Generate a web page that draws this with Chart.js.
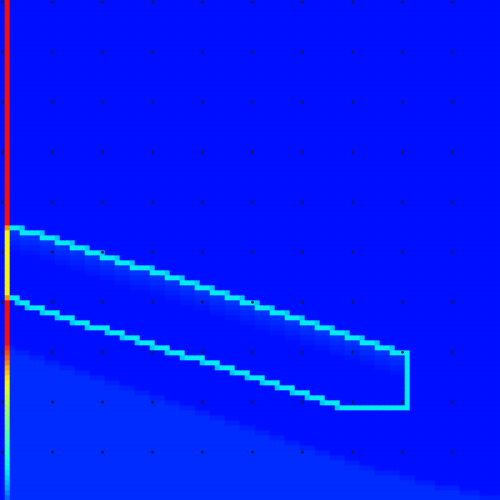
<!DOCTYPE html>
<html>
<head>
<meta charset="utf-8">
<script src="https://cdn.jsdelivr.net/npm/chart.js@4.4.1/dist/chart.umd.min.js"></script>
<style>
html,body{margin:0;padding:0;background:#000fff;overflow:hidden}
canvas{display:block}
</style>
</head>
<body>
<canvas id="c" width="500" height="500"></canvas>
<script>
// ---------- data ----------
const NCOLS = 100;
const NROWS = 100;
const columnLabels = Array.from({length: NCOLS}, (_, i) => String(i));

const backgroundValue = 0.14;
const edgeValue = 0.355;
const edgeJoinValue = 0.32;
const lowerRegionValue = 0.168;
const lowerRegionEdgeValue = 0.155;
const bandValues = [0.176, 0.165, 0.155, 0.147];

// column 1 (left strip), one value per row
const stripColumn = 1;
const stripValues = [
  0.895,0.895,0.895,0.895,0.895,0.895,0.895,0.895,0.895,0.895,
  0.895,0.895,0.895,0.895,0.895,0.895,0.895,0.895,0.895,0.895,
  0.895,0.895,0.895,0.895,0.895,0.895,0.895,0.895,0.895,0.895,
  0.895,0.895,0.895,0.895,0.895,0.895,0.895,0.895,0.895,0.895,
  0.895,0.895,0.895,0.895,0.895,
  0.76,
  0.65,0.65,0.65,0.65,0.65,0.65,0.65,0.65,0.65,0.65,0.65,0.65,0.65,
  0.76,
  0.895,0.895,0.895,0.895,0.895,0.895,0.895,0.895,0.895,
  0.86,0.83,0.80,0.77,0.73,0.70,0.67,0.65,0.63,0.61,
  0.59,0.57,0.55,0.53,0.51,0.50,0.48,0.46,0.44,0.43,
  0.41,0.40,0.38,0.37,0.36,0.35,0.33,0.31,0.29,0.26,0.23
];

// outline of the band: rows per column, starting at column 2
const edgeFirstCol = 2;
const topEdgeRows = [
  45,45,
  46,46,46,46,
  47,47,47, 48,48,48, 49,49,49, 50,50,50, 51,51,51, 52,52,52,
  53,53,53,53,
  54,54,54, 55,55,55, 56,56,56, 57,57,57, 58,58,58, 59,59,59,
  60,60,60, 61,61,61, 62,62,62, 63,63,63, 64,64,64, 65,65,65,
  66,66,66, 67,67,67, 68,68,68, 69,69,69,
  70,70,70,70
];
const bottomEdgeRows = [
  59,59, 60,60,
  61,61,61, 62,62,62, 63,63,63, 64,64,64,
  65,65,65,65,
  66,66,66, 67,67,67, 68,68,68, 69,69,69, 70,70,70,
  71,71,71,71,
  72,72,72, 73,73,73, 74,74,74, 75,75,75, 76,76,76, 77,77,77,
  78,78,78, 79,79,79, 80,80,80,
  81,81,81,81,81,81,81,81,81,81,81,81,81,81
];
const rightEdgeCol = 81;
const rightEdgeRows = [70, 81];

// lighter lower region: first row per column, starting at column 2
const lowerFirstCol = 2;
const lowerStartRows = [
  69,
  70,70,70, 71,71,71, 72,72,72, 73,73,73, 74,74,74, 75,75,75,
  76,76,76, 77,77,77, 78,78,78, 79,79,79, 80,80,80, 81,81,81,
  82,82,82, 83,83,83, 84,84,84, 85,85,85, 86,86,86, 87,87,87,
  88,88,88, 89,89,89, 90,90,90, 91,91,91, 92,92,92, 93,93,93,
  94,94,94,94,94,
  95,95,95,
  96,96,96,96,
  97,97,97,97,97,
  98,98,98,98,
  99,99,99,99
];

// small dark marks
const dotCols = [0,10,20,30,40,50,60,70,80,90];
const dotRows = [0.45,10.45,20.45,30.45,40.45,50.45,60.45,70.45,80.45,90.45];

// ---------- build the cell table ----------
const M = [];
for (let r = 0; r < NROWS; r++) M.push(new Array(NCOLS).fill(backgroundValue));
for (let r = 0; r < NROWS; r++) M[r][stripColumn] = stripValues[r];

lowerStartRows.forEach((s, i) => {
  const c = lowerFirstCol + i;
  for (let r = s; r < NROWS; r++) M[r][c] = (r === s) ? lowerRegionEdgeValue : lowerRegionValue;
});
topEdgeRows.forEach((t, i) => {
  const c = edgeFirstCol + i;
  if (c >= rightEdgeCol) return;
  bandValues.forEach((v, k) => { if (t + 1 + k < NROWS) M[t + 1 + k][c] = v; });
});
topEdgeRows.forEach((t, i) => {
  const c = edgeFirstCol + i;
  if (i > 0 && t > topEdgeRows[i - 1]) M[topEdgeRows[i - 1]][c] = edgeJoinValue;
});
bottomEdgeRows.forEach((b, i) => {
  const c = edgeFirstCol + i;
  if (i > 0 && b > bottomEdgeRows[i - 1]) M[b][c - 1] = edgeJoinValue;
});
topEdgeRows.forEach((t, i) => { M[t][edgeFirstCol + i] = edgeValue; });
bottomEdgeRows.forEach((b, i) => { M[b][edgeFirstCol + i] = edgeValue; });
for (let r = rightEdgeRows[0]; r <= rightEdgeRows[1]; r++) M[r][rightEdgeCol] = edgeValue;

// ---------- jet colour map ----------
const JET = {
  r: [[0,0],[0.35,0],[0.66,1],[0.89,1],[1,0.5]],
  g: [[0,0],[0.125,0],[0.375,1],[0.64,1],[0.91,0],[1,0]],
  b: [[0,0.5],[0.11,1],[0.34,1],[0.65,0],[1,0]]
};
function seg(s, v) {
  for (let i = 1; i < s.length; i++) {
    if (v <= s[i][0]) {
      const [x0, y0] = s[i - 1], [x1, y1] = s[i];
      return y0 + (y1 - y0) * (v - x0) / (x1 - x0);
    }
  }
  return s[s.length - 1][1];
}
function jet(v) {
  v = Math.max(0, Math.min(1, v));
  return 'rgb(' + Math.round(255 * seg(JET.r, v)) + ',' + Math.round(255 * seg(JET.g, v)) + ',' + Math.round(255 * seg(JET.b, v)) + ')';
}

// ---------- datasets ----------
const datasets = [];
for (let r = 0; r < NROWS; r++) {
  datasets.push({
    type: 'bar',
    label: 'row ' + r,
    data: columnLabels.map(() => [r, r + 1]),
    backgroundColor: M[r].map(jet),
    borderWidth: 0,
    grouped: false,
    barPercentage: 1,
    categoryPercentage: 1,
    order: 1
  });
}
const dots = [];
dotRows.forEach(y => dotCols.forEach(c => dots.push({x: columnLabels[c], y: y})));
datasets.push({
  type: 'scatter',
  label: 'marks',
  data: dots,
  pointRadius: 1.4,
  pointBorderWidth: 0,
  backgroundColor: '#1c1c40',
  borderColor: '#1c1c40',
  order: 0
});

new Chart(document.getElementById('c'), {
  type: 'bar',
  data: { labels: columnLabels, datasets: datasets },
  options: {
    responsive: false,
    devicePixelRatio: 1,
    animation: false,
    events: [],
    layout: { padding: 0, autoPadding: false },
    plugins: { legend: { display: false }, tooltip: { enabled: false } },
    scales: {
      x: { type: 'category', offset: true, display: false, grid: { display: false } },
      y: { type: 'linear', min: 0, max: 100, reverse: true, display: false, grid: { display: false } }
    }
  }
});
</script>
</body>
</html>
